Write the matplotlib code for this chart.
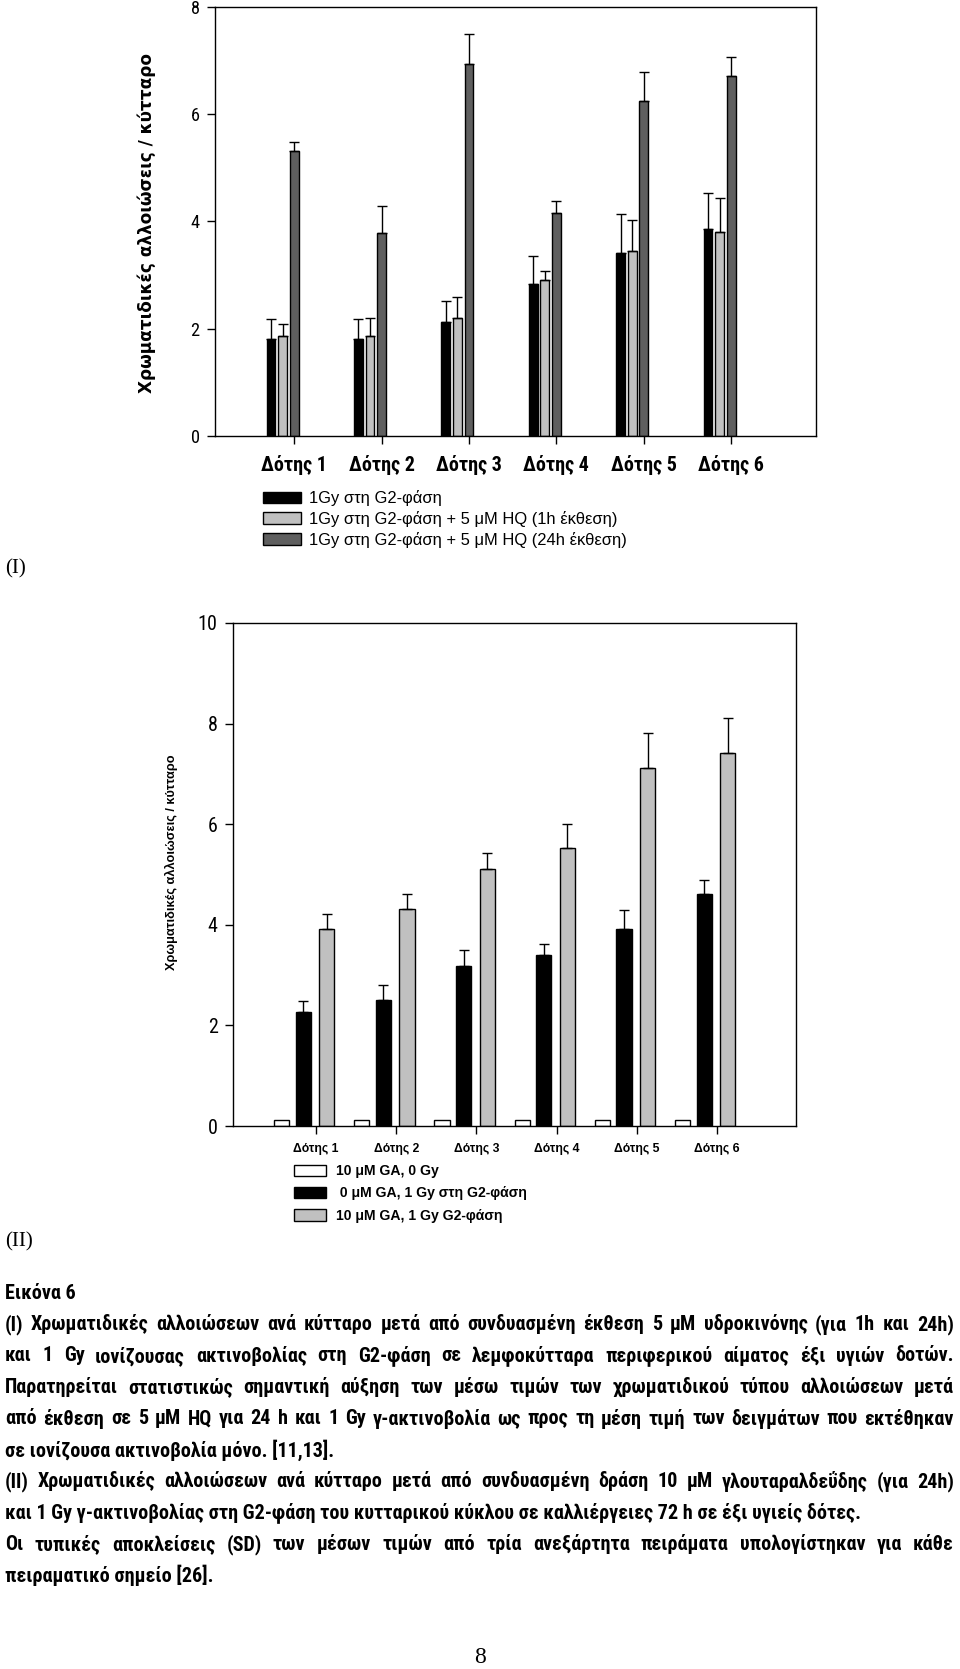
import numpy as np
import matplotlib
matplotlib.use('Agg')
import matplotlib.pyplot as plt
from matplotlib import font_manager

W, H = 960, 1669

# ---- data ----
donors = ['Δότης 1', 'Δότης 2', 'Δότης 3', 'Δότης 4', 'Δότης 5', 'Δότης 6']

# panel I
g2_mean = [1.81, 1.81, 2.13, 2.83, 3.42, 3.86]
g2_sd = [0.37, 0.37, 0.39, 0.53, 0.72, 0.68]
hq1_mean = [1.86, 1.86, 2.20, 2.90, 3.45, 3.81]
hq1_sd = [0.22, 0.34, 0.40, 0.18, 0.57, 0.63]
hq24_mean = [5.31, 3.79, 6.94, 4.16, 6.25, 6.71]
hq24_sd = [0.18, 0.49, 0.56, 0.23, 0.53, 0.35]
labels_I = ['1Gy στη G2-φάση',
            '1Gy στη G2-φάση + 5 μM HQ (1h έκθεση)',
            '1Gy στη G2-φάση + 5 μM HQ (24h έκθεση)']

# panel II
ga0_mean = [0.11, 0.11, 0.11, 0.11, 0.11, 0.11]
ga0_sd = [0, 0, 0, 0, 0, 0]
g2b_mean = [2.27, 2.51, 3.19, 3.40, 3.91, 4.61]
g2b_sd = [0.21, 0.30, 0.30, 0.21, 0.39, 0.29]
ga_g2_mean = [3.91, 4.31, 5.11, 5.52, 7.11, 7.41]
ga_g2_sd = [0.31, 0.30, 0.31, 0.49, 0.71, 0.71]
labels_II = ['10 μM GA, 0 Gy', ' 0 μM GA, 1 Gy στη G2-φάση', '10 μM GA, 1 Gy G2-φάση']

ylabel = 'Χρωματιδικές αλλοιώσεις / κύτταρο'

caption = [
    ('Εικόνα 6', False),
    ('(I) Χρωματιδικές αλλοιώσεων ανά κύτταρο μετά από συνδυασμένη έκθεση 5 μM υδροκινόνης (για 1h και 24h)', True),
    ('και 1 Gy ιονίζουσας ακτινοβολίας στη G2-φάση σε λεμφοκύτταρα περιφερικού αίματος έξι υγιών δοτών.', True),
    ('Παρατηρείται στατιστικώς σημαντική αύξηση των μέσω τιμών των χρωματιδικού τύπου αλλοιώσεων μετά', True),
    ('από έκθεση σε 5 μM HQ για 24 h και 1 Gy γ-ακτινοβολία ως προς τη μέση τιμή των δειγμάτων που εκτέθηκαν', True),
    ('σε ιονίζουσα ακτινοβολία μόνο. [11,13].', False),
    ('(II) Χρωματιδικές αλλοιώσεων ανά κύτταρο μετά από συνδυασμένη δράση 10 μM γλουταραλδεΰδης (για 24h)', True),
    ('και 1 Gy γ-ακτινοβολίας στη G2-φάση του κυτταρικού κύκλου σε καλλιέργειες 72 h σε έξι υγιείς δότες.', False),
    ('Οι τυπικές αποκλείσεις (SD) των μέσων τιμών από τρία ανεξάρτητα πειράματα υπολογίστηκαν για κάθε', True),
    ('πειραματικό σημείο [26].', False),
]


def first_font(names):
    for n in names:
        try:
            font_manager.findfont(font_manager.FontProperties(family=n), fallback_to_default=False)
            return n
        except ValueError:
            pass
    return 'DejaVu Sans'


narrow_name = first_font(['Liberation Sans Narrow', 'Roboto Condensed', 'Open Sans Condensed',
                          'DejaVu Sans Condensed', 'Liberation Sans'])
is_narrow = narrow_name != 'Liberation Sans'
NARROW = [narrow_name, 'DejaVu Sans']
SANS = ['Liberation Sans', 'DejaVu Sans']
SERIF = ['Liberation Serif', 'DejaVu Serif']
nscale = 1.2 if is_narrow else 1.0

fig = plt.figure(figsize=(W / 100, H / 100), dpi=100)


def fbox(l, t, r, b):
    return [l / W, 1 - b / H, (r - l) / W, (b - t) / H]


def style_axes(ax):
    for s in ax.spines.values():
        s.set_linewidth(1.0)
        s.set_color('black')
    ax.tick_params(axis='both', direction='out', length=6, width=1,
                   top=False, right=False, color='black')


x = np.arange(len(donors))

# ---------------- panel I ----------------
ax1 = fig.add_axes(fbox(215, 7, 816, 436))
bw = 0.1
series_I = [(g2_mean, g2_sd, '#000000', -0.265),
            (hq1_mean, hq1_sd, '#c0c0c0', -0.133),
            (hq24_mean, hq24_sd, '#5f5f5f', 0.0)]
handles_I = []
for mean, sd, col, off in series_I:
    b = ax1.bar(x + off, mean, width=bw, color=col, edgecolor='black', linewidth=1, zorder=2)
    handles_I.append(b)
    ax1.errorbar(x + off, mean, yerr=[np.zeros(len(sd)), sd], fmt='none', ecolor='black',
                 elinewidth=1, capsize=3.5, capthick=1, zorder=3)
ax1.set_xlim(-0.906, 5.97)
ax1.set_ylim(0, 8)
ax1.set_yticks([0, 2, 4, 6, 8])
ax1.set_xticks(x)
ax1.set_xticklabels(donors, fontfamily=NARROW, fontweight='bold', fontsize=12 * nscale)
for t in ax1.get_yticklabels():
    t.set_fontfamily(NARROW)
    t.set_fontsize(11 * nscale)
style_axes(ax1)
ax1.tick_params(axis='x', pad=8)
ax1.tick_params(axis='y', pad=5)
ax1.set_ylabel(ylabel, fontfamily=['DejaVu Sans'], fontweight='bold', fontsize=12.2)
ax1.yaxis.set_label_coords(-0.098, 0.497)

leg1 = fig.legend(handles_I, labels_I, loc='upper left', bbox_to_anchor=(263 / W, 1 - 490 / H),
                  frameon=False, prop={'family': SANS, 'size': 11.9},
                  handlelength=2.3, handleheight=0.68, handletextpad=0.5,
                  labelspacing=0.3, borderpad=0, borderaxespad=0)

# ---------------- panel II ----------------
ax2 = fig.add_axes(fbox(233, 623, 796, 1126))
bw2 = 0.19
series_II = [(ga0_mean, ga0_sd, '#ffffff', -0.43),
             (g2b_mean, g2b_sd, '#000000', -0.16),
             (ga_g2_mean, ga_g2_sd, '#c0c0c0', 0.135)]
handles_II = []
for mean, sd, col, off in series_II:
    b = ax2.bar(x + off, mean, width=bw2, color=col, edgecolor='black', linewidth=1, zorder=2)
    handles_II.append(b)
    if max(sd) > 0:
        ax2.errorbar(x + off, mean, yerr=[np.zeros(len(sd)), sd], fmt='none', ecolor='black',
                     elinewidth=1, capsize=3.5, capthick=1, zorder=3)
ax2.set_xlim(-1.035, 5.985)
ax2.set_ylim(0, 10)
ax2.set_yticks([0, 2, 4, 6, 8, 10])
ax2.set_xticks(x)
ax2.set_xticklabels(donors, fontfamily=SANS, fontweight='bold', fontsize=8.8)
for t in ax2.get_yticklabels():
    t.set_fontfamily(NARROW)
    t.set_fontsize(12 * nscale)
style_axes(ax2)
ax2.tick_params(axis='x', pad=6)
ax2.tick_params(axis='y', pad=5)
ax2.set_ylabel(ylabel, fontfamily=SANS, fontweight='bold', fontsize=9.2)
ax2.yaxis.set_label_coords(-0.098, 0.525)

leg2 = fig.legend(handles_II, labels_II, loc='upper left', bbox_to_anchor=(294 / W, 1 - 1164 / H),
                  frameon=False, prop={'family': SANS, 'size': 10.1, 'weight': 'bold'},
                  handlelength=2.3, handleheight=0.85, handletextpad=0.7,
                  labelspacing=0.6, borderpad=0, borderaxespad=0)

# ---------------- page texts ----------------
fig.text(5 / W, 1 - 569 / H, '(I)', fontfamily=SERIF, fontsize=15, va='center', ha='left')
fig.text(5 / W, 1 - 1242 / H, '(II)', fontfamily=SERIF, fontsize=15, va='center', ha='left')
fig.text(480 / W, 1 - 1657 / H, '8', fontfamily=SERIF, fontsize=17, va='center', ha='center')

cap_kw = dict(fontfamily=NARROW, fontweight='bold', fontsize=12.1 * nscale, va='center', ha='left')
X0, X1 = 5, 954
renderer = fig.canvas.get_renderer()
for i, (line, justify) in enumerate(caption):
    yc = 1 - (1293 + 31.4 * i) / H
    if not justify:
        fig.text(X0 / W, yc, line, **cap_kw)
        continue
    words = line.split(' ')
    arts = [fig.text(0, yc, w, **cap_kw) for w in words]
    widths = [a.get_window_extent(renderer).width for a in arts]
    gap = max((X1 - X0 - sum(widths)) / (len(words) - 1), 2)
    xp = X0
    for a, wd in zip(arts, widths):
        a.set_x(xp / W)
        xp += wd + gap

fig.savefig('out.png', dpi=100)
